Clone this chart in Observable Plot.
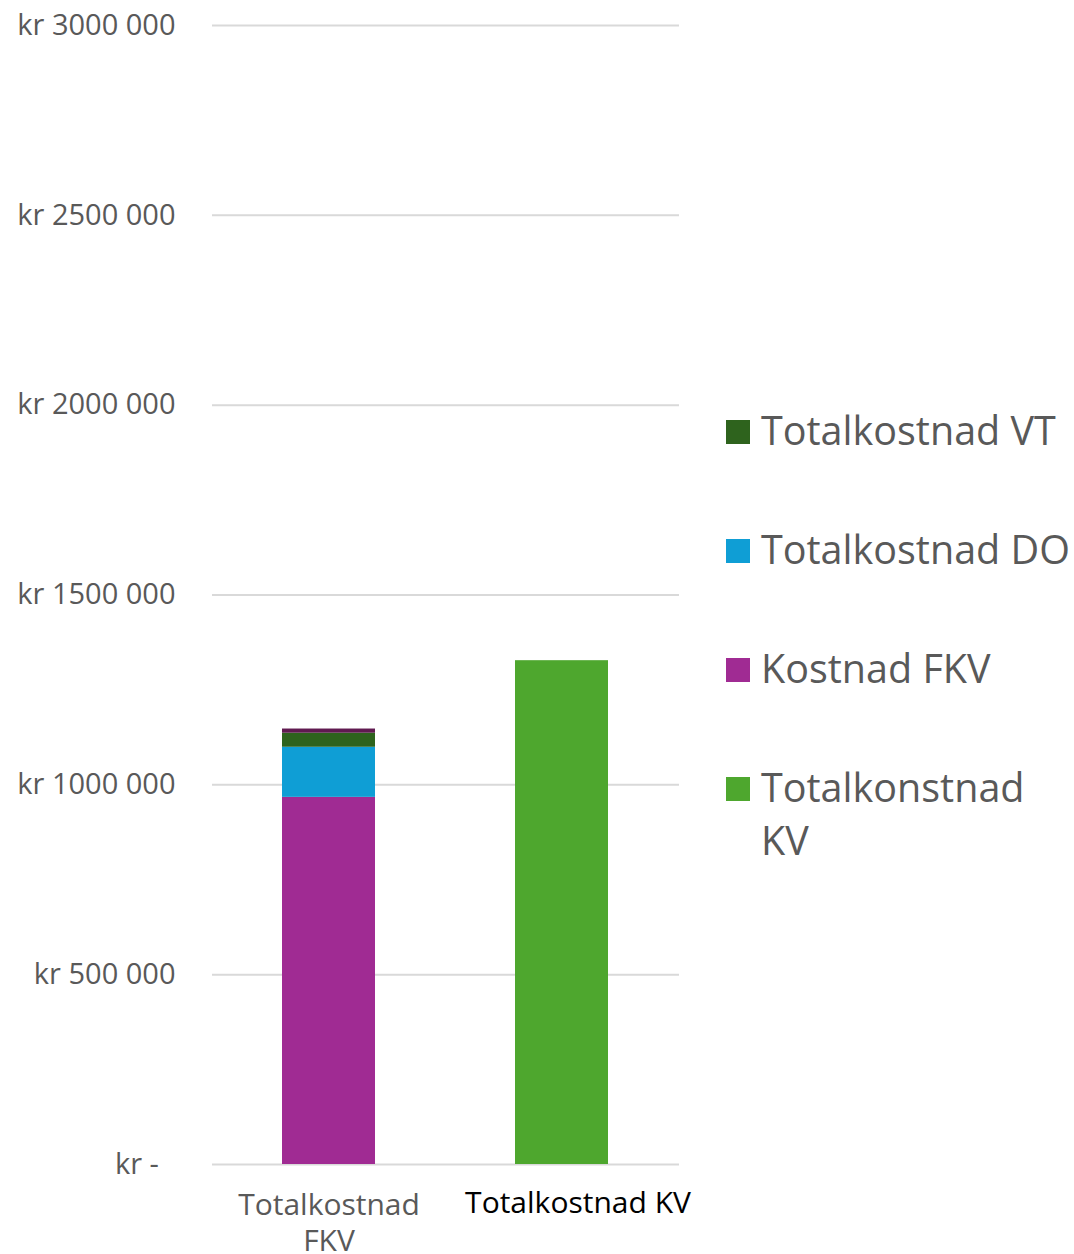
<!DOCTYPE html>
<html>
<head>
<meta charset="utf-8">
<script src="https://cdn.jsdelivr.net/npm/d3@7"></script>
<script src="https://cdn.jsdelivr.net/npm/@observablehq/plot@0.6"></script>
<style>
  html, body { margin: 0; padding: 0; background: #fff; }
  #wrap { position: relative; width: 1074px; height: 1254px; overflow: hidden; font-family: "Open Sans", sans-serif; }
  #chart { position: absolute; left: 0; top: 0; }
  .leg { position: absolute; left: 726px; color: #595959; font-size: 39.5px; line-height: 53px; }
  .leg .sw { position: absolute; left: 0; width: 24px; height: 24px; }
  .leg .lb { position: absolute; left: 35px; white-space: nowrap; }
</style>
</head>
<body>
<div id="wrap"><div id="chart"></div></div>
<script>
const categories = ["Totalkostnad FKV", "Totalkostnad KV"];
const categoryLabels = ["Totalkostnad\nFKV", "Totalkostnad KV"];
const series = ["Totalkonstnad KV", "Kostnad FKV", "Totalkostnad DO", "Totalkostnad VT", "Annet"];
const seriesColors = ["#4EA72E", "#A02B93", "#0F9ED5", "#2E631D", "#601A50"];
const valuesKV = [0, 1327000];
const valuesKostnadFKV = [967000, 0];
const valuesDO = [132000, 0];
const valuesVT = [37000, 0];
const valuesAnnet = [11000, 0];
const yTicks = [0, 500000, 1000000, 1500000, 2000000, 2500000, 3000000];
const yTickLabels = ["kr -\u2007", "kr 500 000", "kr 1000 000", "kr 1500 000", "kr 2000 000", "kr 2500 000", "kr 3000 000"];
const legendOrder = ["Totalkostnad VT", "Totalkostnad DO", "Kostnad FKV", "Totalkonstnad KV"];
const legendLabels = ["Totalkostnad VT", "Totalkostnad DO", "Kostnad FKV", "Totalkonstnad<br>KV"];

const seriesValues = [valuesKV, valuesKostnadFKV, valuesDO, valuesVT, valuesAnnet];
const data = [];
series.forEach((s, i) => categories.forEach((c, j) => data.push({category: c, series: s, value: seriesValues[i][j]})));

const chart = Plot.plot({
  width: 700,
  height: 1254,
  marginLeft: 212,
  marginRight: 21,
  marginTop: 25,
  marginBottom: 90,
  style: {fontFamily: "Open Sans, sans-serif", background: "white", overflow: "visible"},
  x: {domain: categories, paddingInner: 0.6, paddingOuter: 0.3, axis: null},
  y: {domain: [0, 3000000], axis: null},
  color: {domain: series, range: seriesColors},
  marks: [
    Plot.gridY(yTicks, {stroke: "#d9d9d9", strokeOpacity: 1, strokeWidth: 2}),
    Plot.axisY(yTicks, {tickSize: 0, tickPadding: 37, tickFormat: (d) => yTickLabels[yTicks.indexOf(d)], fontSize: 29, fill: "#595959", label: null}),
    Plot.barY(data, {x: "category", y: "value", fill: "series", order: series}),
    Plot.text([0], {x: () => categories[0], text: () => categoryLabels[0], frameAnchor: "bottom", lineAnchor: "top", dy: 25, fontSize: 30, fill: "#595959", lineHeight: 1.2}),
    Plot.text([1], {x: () => categories[1], text: () => categoryLabels[1], frameAnchor: "bottom", lineAnchor: "top", dy: 27, dx: 16, fontSize: 30, fill: "#000000"})
  ]
});
document.getElementById("chart").appendChild(chart);

const wrap = document.getElementById("wrap");
const tops = [404, 523, 642, 761];
legendOrder.forEach((s, i) => {
  const d = document.createElement("div");
  d.className = "leg";
  d.style.top = tops[i] + "px";
  const sw = document.createElement("div");
  sw.className = "sw";
  sw.style.top = "16px";
  sw.style.background = seriesColors[series.indexOf(s)];
  const lb = document.createElement("div");
  lb.className = "lb";
  lb.innerHTML = legendLabels[i];
  d.appendChild(sw); d.appendChild(lb);
  wrap.appendChild(d);
});
</script>
</body>
</html>
